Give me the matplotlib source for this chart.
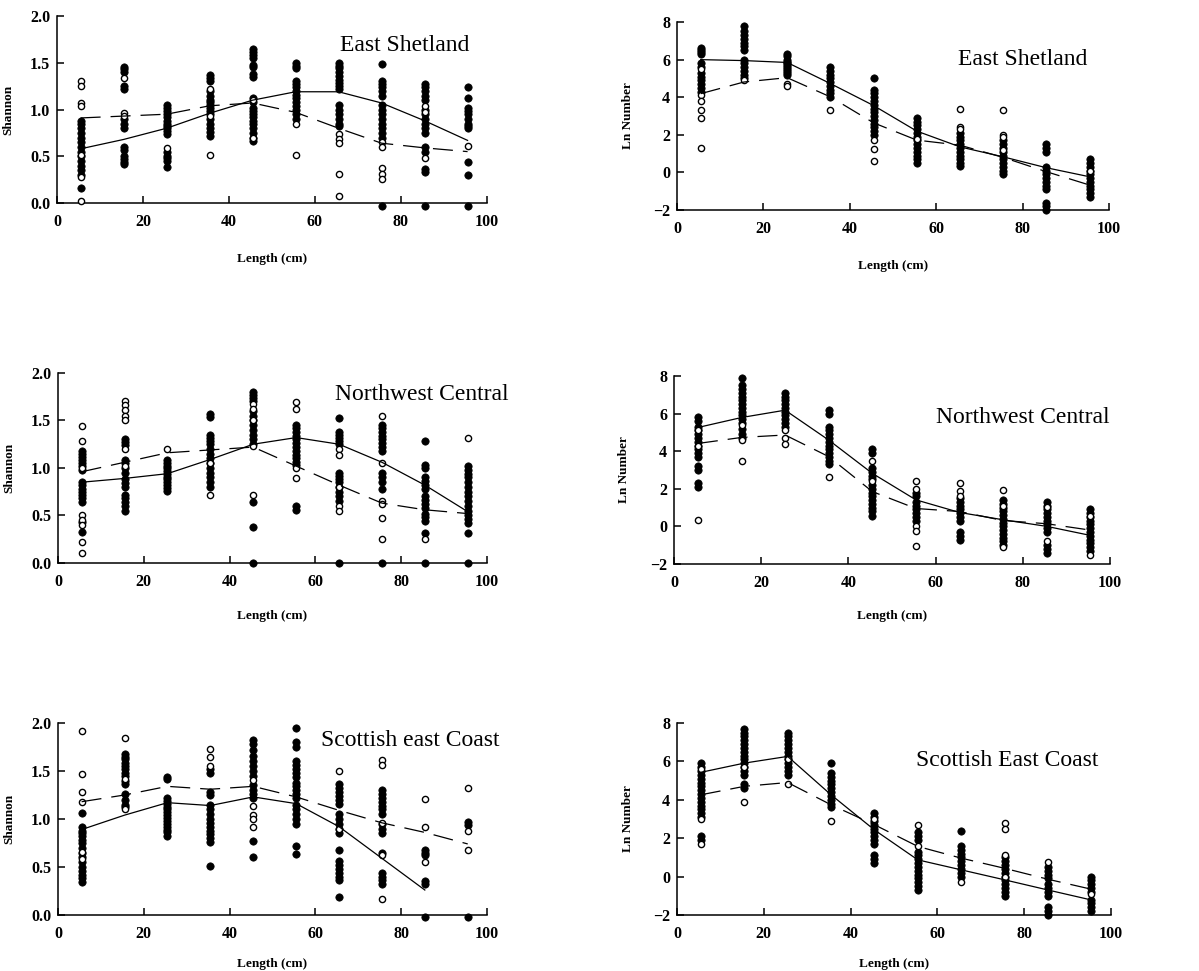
import matplotlib
matplotlib.use("Agg")
import matplotlib.pyplot as plt
from matplotlib.font_manager import FontProperties

# length class midpoints (cm)
lengths = [5.5, 15.5, 25.5, 35.5, 45.5, 55.5, 65.5, 75.5, 85.5, 95.5]

# ---- East Shetland: Shannon diversity ----
es_sh_solid = [0.58, 0.68, 0.80, 0.96, 1.10, 1.19, 1.19, 1.07, 0.88, 0.67]
es_sh_dashed = [0.91, 0.93, 0.95, 1.04, 1.07, 0.97, 0.80, 0.64, 0.59, 0.55]
es_sh_filled = [
    [0.16, 0.30, 0.35, 0.40, 0.45, 0.50, 0.55, 0.60, 0.65, 0.70, 0.75, 0.80, 0.85, 0.88],
    [1.45, 1.43, 1.40, 1.25, 1.22, 0.90, 0.85, 0.80, 0.60, 0.57, 0.50, 0.47, 0.44, 0.42],
    [1.05, 1.02, 0.98, 0.95, 0.92, 0.88, 0.85, 0.82, 0.80, 0.77, 0.74, 0.55, 0.50, 0.48, 0.45, 0.39],
    [1.37, 1.34, 1.30, 1.20, 1.15, 1.10, 1.08, 1.05, 1.02, 0.98, 0.95, 0.90, 0.85, 0.80, 0.76, 0.72],
    [1.65, 1.62, 1.58, 1.55, 1.48, 1.45, 1.38, 1.35, 1.12, 1.08, 1.02, 0.98, 0.95, 0.92, 0.88,
     0.85, 0.80, 0.75, 0.70, 0.66],
    [1.50, 1.47, 1.44, 1.30, 1.27, 1.24, 1.20, 1.16, 1.12, 1.08, 1.04, 1.00, 0.95, 0.90],
    [1.50, 1.47, 1.44, 1.40, 1.36, 1.32, 1.28, 1.25, 1.22, 1.05, 1.00, 0.95, 0.90, 0.85, 0.82],
    [1.49, 1.30, 1.27, 1.24, 1.20, 1.15, 1.05, 1.00, 0.95, 0.90, 0.85, 0.80, 0.75, 0.70, -0.03],
    [1.27, 1.24, 1.20, 1.15, 1.10, 1.00, 0.95, 0.90, 0.85, 0.80, 0.75, 0.60, 0.55, 0.36, 0.33, -0.03],
    [1.24, 1.12, 1.02, 0.98, 0.95, 0.90, 0.85, 0.82, 0.80, 0.44, 0.30, -0.03],
]
es_sh_open = [
    [1.30, 1.25, 1.07, 1.04, 0.51, 0.28, 0.02],
    [1.34, 0.96, 0.93],
    [0.59],
    [1.22, 0.93, 0.51],
    [1.10, 0.70],
    [0.85, 0.51],
    [0.74, 0.69, 0.64, 0.31, 0.08],
    [0.65, 0.60, 0.37, 0.31, 0.26],
    [1.04, 0.97, 0.48],
    [0.61],
]

# ---- East Shetland: ln number ----
es_ln_solid = [6.0, 5.95, 5.85, 4.73, 3.56, 2.2, 1.36, 0.83, 0.25, -0.23]
es_ln_dashed = [4.19, 4.81, 5.04, 4.02, 2.64, 1.72, 1.45, 0.8, 0.04, -0.67]
es_ln_filled = [
    [6.6, 6.5, 6.4, 6.3, 5.8, 5.6, 5.3, 5.1, 4.9, 4.7, 4.5, 4.3],
    [7.8, 7.5, 7.3, 7.1, 6.9, 6.7, 6.5, 6.0, 5.8, 5.6, 5.4, 5.2, 5.0],
    [6.3, 6.2, 6.0, 5.9, 5.8, 5.7, 5.6, 5.5, 5.4, 5.3, 5.2],
    [5.6, 5.4, 5.2, 5.0, 4.8, 4.6, 4.4, 4.2, 4.0],
    [5.0, 4.4, 4.2, 4.0, 3.8, 3.6, 3.4, 3.2, 3.0, 2.8, 2.6, 2.4, 2.2, 2.0],
    [2.9, 2.7, 2.5, 2.3, 2.1, 1.9, 1.7, 1.5, 1.3, 1.1, 0.9, 0.7, 0.5],
    [2.1, 1.9, 1.7, 1.5, 1.3, 1.1, 0.9, 0.7, 0.5, 0.35],
    [1.7, 1.5, 1.3, 1.1, 0.9, 0.7, 0.5, 0.3, 0.1, -0.1],
    [1.5, 1.3, 1.1, 0.3, 0.1, -0.1, -0.3, -0.5, -0.7, -0.9, -1.6, -1.8, -2.0],
    [0.7, 0.5, 0.3, 0.1, -0.1, -0.3, -0.5, -0.7, -0.9, -1.1, -1.3],
]
es_ln_open = [
    [5.5, 4.1, 3.8, 3.3, 2.9, 1.3],
    [4.9],
    [4.7, 4.6],
    [3.3],
    [1.7, 1.25, 0.6],
    [1.8],
    [3.4, 2.4, 2.3],
    [3.3, 2.0, 1.9, 1.2],
    [],
    [0.1],
]

# ---- Northwest Central: Shannon diversity ----
nw_sh_solid = [0.85, 0.89, 0.94, 1.09, 1.25, 1.32, 1.25, 1.06, 0.82, 0.54]
nw_sh_dashed = [0.96, 1.06, 1.16, 1.19, 1.22, 1.02, 0.82, 0.63, 0.56, 0.52]
nw_sh_filled = [
    [1.18, 1.15, 1.12, 1.08, 1.05, 1.02, 0.98, 0.85, 0.82, 0.78, 0.75, 0.72, 0.68, 0.64, 0.43, 0.33],
    [1.30, 1.27, 1.24, 1.08, 1.05, 1.00, 0.95, 0.88, 0.84, 0.80, 0.72, 0.68, 0.64, 0.60, 0.55],
    [1.08, 1.05, 1.02, 1.00, 0.97, 0.94, 0.91, 0.88, 0.85, 0.82, 0.79, 0.76],
    [1.57, 1.54, 1.35, 1.32, 1.28, 1.25, 1.20, 1.15, 1.10, 1.05, 1.00, 0.95, 0.90, 0.85, 0.80],
    [1.80, 1.77, 1.74, 1.70, 1.60, 1.55, 1.50, 1.45, 1.40, 1.35, 1.30, 1.25, 0.64, 0.38, 0.0],
    [1.45, 1.42, 1.38, 1.34, 1.30, 1.26, 1.22, 1.18, 1.14, 1.10, 1.06, 1.03, 0.60, 0.56],
    [1.53, 1.38, 1.35, 1.32, 1.28, 1.25, 0.95, 0.92, 0.88, 0.85, 0.80, 0.75, 0.70, 0.65, 0.0],
    [1.45, 1.42, 1.38, 1.34, 1.30, 1.26, 1.22, 1.18, 0.95, 0.90, 0.85, 0.78, 0.0],
    [1.28, 1.03, 1.00, 0.90, 0.86, 0.82, 0.78, 0.70, 0.66, 0.62, 0.58, 0.52, 0.48, 0.44, 0.32, 0.0],
    [1.02, 0.98, 0.94, 0.90, 0.85, 0.80, 0.75, 0.70, 0.65, 0.60, 0.55, 0.50, 0.46, 0.42, 0.32, 0.0],
]
nw_sh_open = [
    [1.44, 1.28, 1.00, 0.51, 0.45, 0.40, 0.22, 0.11],
    [1.71, 1.66, 1.61, 1.55, 1.51, 1.20, 1.02],
    [1.20],
    [1.05, 0.72],
    [1.67, 1.62, 1.50, 1.23, 0.72],
    [1.69, 1.62, 1.00, 0.89],
    [1.20, 1.14, 0.80, 0.60, 0.55],
    [1.55, 1.05, 0.65, 0.62, 0.47, 0.25],
    [0.25],
    [1.32],
]

# ---- Northwest Central: ln number ----
nw_ln_solid = [5.26, 5.79, 6.18, 4.59, 2.82, 1.41, 0.74, 0.35, 0.0, -0.48]
nw_ln_dashed = [4.41, 4.73, 4.86, 3.71, 1.85, 0.95, 0.79, 0.31, 0.14, -0.2]
nw_ln_filled = [
    [5.8, 5.6, 5.3, 5.1, 4.9, 4.7, 4.5, 4.3, 4.1, 3.9, 3.7, 3.2, 3.0, 2.3, 2.1],
    [7.9, 7.5, 7.3, 7.1, 6.9, 6.7, 6.5, 6.3, 6.1, 5.9, 5.7, 5.5, 5.2, 4.9, 4.7],
    [7.1, 6.9, 6.7, 6.5, 6.3, 6.1, 5.9, 5.7, 5.5, 5.3],
    [6.2, 6.0, 5.3, 5.1, 4.9, 4.7, 4.5, 4.3, 4.1, 3.9, 3.7, 3.5, 3.3],
    [4.1, 3.9, 3.1, 2.9, 2.7, 2.5, 2.2, 2.0, 1.8, 1.6, 1.4, 1.2, 1.0, 0.8, 0.55],
    [1.8, 1.6, 1.3, 1.1, 0.9, 0.7, 0.5, 0.3],
    [1.5, 1.3, 1.1, 0.9, 0.7, 0.5, 0.3, -0.3, -0.5, -0.7],
    [1.4, 1.2, 1.0, 0.8, 0.6, 0.4, 0.2, 0.0, -0.2, -0.4, -0.6, -0.8, -1.0],
    [1.3, 1.1, 0.9, 0.7, 0.5, 0.3, 0.1, -0.1, -0.3, -1.0, -1.2, -1.4],
    [0.9, 0.7, 0.5, 0.3, 0.1, -0.1, -0.3, -0.5, -0.7, -0.9, -1.1, -1.3],
]
nw_ln_open = [
    [5.1, 4.3, 0.35],
    [5.4, 4.6, 3.5],
    [5.1, 4.7, 4.4],
    [2.6],
    [3.5, 2.4],
    [2.4, 2.0, 0.0, -0.25, -1.05],
    [2.3, 1.9, 1.6],
    [1.95, 1.1, -1.1],
    [1.05, -0.8],
    [0.55, -1.5],
]

# ---- Scottish east coast: Shannon diversity ----
se_sh_solid = [0.89, 1.04, 1.17, 1.14, 1.23, 1.16, 0.92, 0.59, 0.26]
se_sh_dashed = [1.18, 1.25, 1.34, 1.31, 1.34, 1.23, 1.09, 0.96, 0.86, 0.74]
se_sh_filled = [
    [1.06, 0.92, 0.88, 0.85, 0.82, 0.78, 0.75, 0.70, 0.65, 0.60, 0.55, 0.50, 0.46, 0.42, 0.38, 0.34],
    [1.68, 1.65, 1.62, 1.58, 1.55, 1.52, 1.48, 1.45, 1.40, 1.36, 1.26, 1.20, 1.15, 1.12],
    [1.44, 1.42, 1.22, 1.19, 1.16, 1.13, 1.10, 1.07, 1.04, 1.01, 0.98, 0.95, 0.92, 0.89, 0.86, 0.82],
    [1.52, 1.48, 1.28, 1.25, 1.15, 1.10, 1.05, 1.00, 0.96, 0.92, 0.88, 0.84, 0.80, 0.76, 0.51],
    [1.82, 1.78, 1.72, 1.66, 1.60, 1.55, 1.50, 1.45, 1.35, 1.30, 1.26, 1.22, 0.77, 0.60],
    [1.95, 1.80, 1.75, 1.60, 1.56, 1.52, 1.48, 1.44, 1.38, 1.34, 1.30, 1.26, 1.22, 1.15, 1.10,
     1.05, 1.00, 0.95, 0.72, 0.64],
    [1.36, 1.32, 1.28, 1.24, 1.20, 1.16, 1.05, 1.00, 0.95, 0.90, 0.85, 0.68, 0.56, 0.52, 0.48,
     0.44, 0.40, 0.36, 0.19],
    [1.30, 1.26, 1.22, 1.18, 1.14, 1.10, 1.05, 0.95, 0.90, 0.85, 0.65, 0.44, 0.40, 0.36, 0.32],
    [0.68, 0.65, 0.62, 0.35, 0.32, -0.02],
    [0.97, 0.94, -0.02],
]
se_sh_open = [
    [1.92, 1.47, 1.28, 1.18, 0.66, 0.58],
    [1.84, 1.42, 1.10],
    [],
    [1.73, 1.65, 1.55],
    [1.41, 1.14, 1.04, 1.00, 0.92],
    [],
    [1.50, 0.90],
    [1.61, 1.56, 0.96, 0.62, 0.17],
    [1.21, 0.92, 0.55],
    [1.32, 0.88, 0.68],
]

# ---- Scottish east coast: ln number ----
se_ln_solid = [5.43, 5.91, 6.26, 4.26, 2.43, 0.87, 0.35, -0.17, -0.70, -1.22]
se_ln_dashed = [4.26, 4.70, 4.90, 3.74, 2.70, 1.57, 0.96, 0.43, -0.14, -0.66]
se_ln_filled = [
    [5.9, 5.7, 5.5, 5.3, 5.1, 4.9, 4.7, 4.5, 4.3, 4.1, 3.9, 3.7, 3.5, 3.3, 3.1, 2.1, 1.9],
    [7.7, 7.5, 7.3, 7.1, 6.9, 6.7, 6.5, 6.3, 6.1, 5.9, 5.7, 5.5, 5.3, 4.8, 4.6],
    [7.5, 7.3, 7.1, 6.9, 6.7, 6.5, 6.3, 6.1, 5.9, 5.7, 5.5, 5.3],
    [5.9, 5.4, 5.2, 5.0, 4.8, 4.6, 4.4, 4.2, 4.0, 3.8, 3.6],
    [3.3, 3.1, 2.9, 2.7, 2.5, 2.3, 2.1, 1.9, 1.7, 1.1, 0.9, 0.7],
    [2.3, 2.1, 1.9, 1.3, 1.1, 0.9, 0.7, 0.5, 0.3, 0.1, -0.1, -0.3, -0.5, -0.7],
    [2.4, 1.6, 1.4, 1.2, 1.0, 0.8, 0.6, 0.4, 0.2, 0.0],
    [1.0, 0.8, 0.6, 0.4, 0.2, 0.0, -0.2, -0.4, -0.6, -0.8, -1.0],
    [0.5, 0.3, 0.1, -0.1, -0.4, -0.6, -0.8, -1.0, -1.6, -1.8, -2.0],
    [0.0, -0.2, -0.4, -0.6, -0.8, -1.2, -1.4, -1.6, -1.8],
]
se_ln_open = [
    [5.6, 3.0, 1.7],
    [5.7, 3.9],
    [6.1, 4.8],
    [2.9],
    [3.0],
    [2.7, 1.6],
    [-0.3],
    [2.8, 2.5, 1.15, 0.0],
    [0.75],
    [-0.9],
]

tick_font = FontProperties(family="Liberation Serif", weight="bold", size=11.5)
label_font = dict(family="Liberation Serif", weight="bold", size=9.5)
title_font = dict(family="Liberation Serif", size=17)


def draw_panel(ax, filled, open_, solid, dashed, kind, title, title_x, title_y, xlab_y):
    for x, ys in zip(lengths, filled):
        ax.scatter([x] * len(ys), ys, s=28, c="black", edgecolors="black",
                   linewidths=0.5, clip_on=False, zorder=3)
    for x, ys in zip(lengths, open_):
        ax.scatter([x] * len(ys), ys, s=20, facecolors="white", edgecolors="black",
                   linewidths=1.0, clip_on=False, zorder=4)
    ax.plot(lengths[:len(solid)], solid, color="black", lw=0.9, zorder=5)
    ax.plot(lengths[:len(dashed)], dashed, color="black", lw=0.9,
            linestyle=(0, (16, 8)), zorder=5)

    ax.set_xlim(0, 100)
    ax.set_xticks([0, 20, 40, 60, 80, 100])
    if kind == "shannon":
        ax.set_ylim(0, 2)
        ax.set_yticks([0, 0.5, 1.0, 1.5, 2.0])
        ax.set_yticklabels(["0.0", "0.5", "1.0", "1.5", "2.0"])
        ax.set_ylabel("Shannon", **label_font)
    else:
        ax.set_ylim(-2, 8)
        ax.set_yticks([-2, 0, 2, 4, 6, 8])
        ax.set_yticklabels(["\u22122", "0", "2", "4", "6", "8"])
        ax.set_ylabel("Ln Number", **label_font)
    ax.set_xlabel("Length (cm)", **label_font)
    ax.xaxis.set_label_coords(0.5, xlab_y)
    ax.yaxis.set_label_coords(-0.1, 0.5)

    for sp in ["top", "right"]:
        ax.spines[sp].set_visible(False)
    for sp in ["left", "bottom"]:
        ax.spines[sp].set_linewidth(1.1)
    ax.tick_params(axis="x", direction="in", length=5, width=1.1, pad=8)
    ax.tick_params(axis="y", direction="in", length=5, width=1.1, pad=5)
    for lab in ax.get_xticklabels() + ax.get_yticklabels():
        lab.set_fontproperties(tick_font)

    ax.text(title_x, title_y, title, ha="right", va="center", clip_on=False, **title_font)


fig = plt.figure(figsize=(11.99, 9.71), dpi=100)

axes_pos = [
    [0.0475, 0.7909, 0.3586, 0.1926],
    [0.5646, 0.7837, 0.3603, 0.1936],
    [0.0484, 0.4202, 0.3578, 0.1957],
    [0.5621, 0.4192, 0.3636, 0.1936],
    [0.0484, 0.0577, 0.3578, 0.1977],
    [0.5646, 0.0577, 0.3620, 0.1977],
]
axs = [fig.add_axes(p) for p in axes_pos]

draw_panel(axs[0], es_sh_filled, es_sh_open, es_sh_solid, es_sh_dashed,
           "shannon", "East Shetland", 96, 1.69, -0.265)
draw_panel(axs[1], es_ln_filled, es_ln_open, es_ln_solid, es_ln_dashed,
           "ln", "East Shetland", 95, 6.0, -0.265)
draw_panel(axs[2], nw_sh_filled, nw_sh_open, nw_sh_solid, nw_sh_dashed,
           "shannon", "Northwest Central", 105, 1.77, -0.245)
draw_panel(axs[3], nw_ln_filled, nw_ln_open, nw_ln_solid, nw_ln_dashed,
           "ln", "Northwest Central", 100, 5.8, -0.245)
draw_panel(axs[4], se_sh_filled, se_sh_open, se_sh_solid, se_sh_dashed,
           "shannon", "Scottish east Coast", 103, 1.82, -0.225)
draw_panel(axs[5], se_ln_filled, se_ln_open, se_ln_solid, se_ln_dashed,
           "ln", "Scottish East Coast", 97, 6.07, -0.225)

fig.savefig("out.png", dpi=100)
